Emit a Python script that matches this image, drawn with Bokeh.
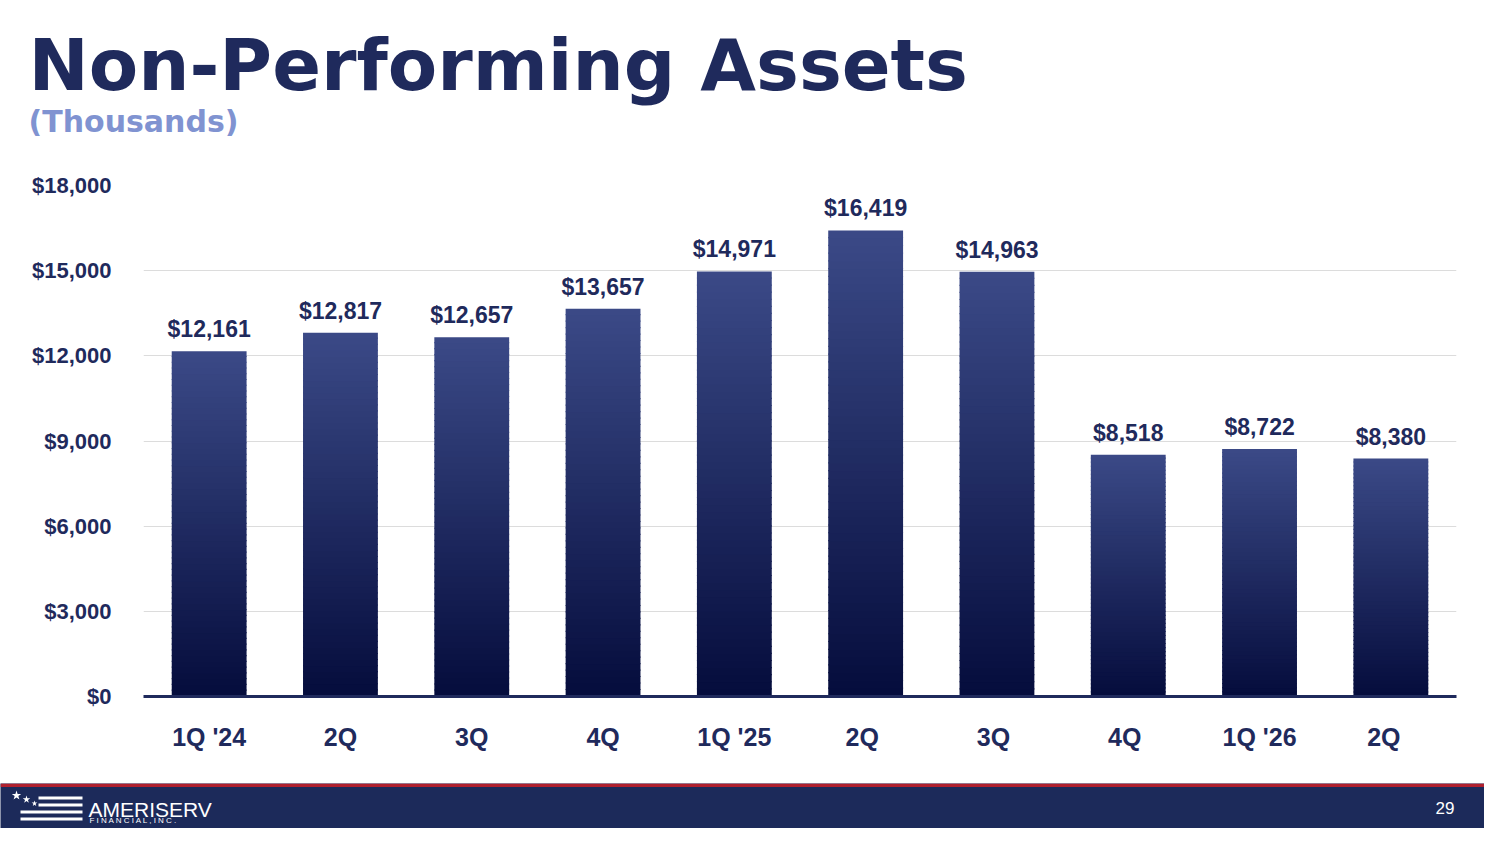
from bokeh.plotting import figure
from bokeh.layouts import column, row
from bokeh.models import NumeralTickFormatter, FixedTicker, Range1d, ColumnDataSource
from bokeh.core.properties import value
from bokeh.embed import file_html
from bokeh.resources import INLINE

categories = ["1Q '24", "2Q", "3Q", "4Q", "1Q '25", "2Q ", "3Q ", "4Q ", "1Q '26", "2Q  "]
values = [12161, 12817, 12657, 13657, 14971, 16419, 14963, 8518, 8722, 8380]
labels = ["$12,161", "$12,817", "$12,657", "$13,657", "$14,971", "$16,419", "$14,963", "$8,518", "$8,722", "$8,380"]
y_ticks = [0, 3000, 6000, 9000, 12000, 15000, 18000]

W = 1484
NAVY = "#1f2a5c"
FONT = "Liberation Sans"

# header
h = figure(width=W, height=163, x_range=Range1d(0, W), y_range=Range1d(163, 0),
           output_backend="svg", toolbar_location=None, min_border=0, outline_line_color=None)
h.axis.visible = False; h.grid.visible = False
h.text([28], [64], text=["Non-Performing Assets"], text_font=value("DejaVu Sans"), text_font_style="bold",
       text_font_size="72px", text_color=NAVY, text_baseline="alphabetic")
h.text([28], [121], text=["(Thousands)"], text_font=value("DejaVu Sans"), text_font_style="bold",
       text_font_size="30px", text_color="#8093d1", text_baseline="alphabetic")

# chart
p = figure(width=W, height=620, x_range=categories, y_range=Range1d(0, 18000),
           output_backend="svg", toolbar_location=None, min_border_top=22, min_border_bottom=87,
           min_border_left=143, min_border_right=28, outline_line_color=None)
N = 60
def lerp(c1, c2, t):
    a = [int(c1[i:i+2], 16) for i in (1, 3, 5)]
    b = [int(c2[i:i+2], 16) for i in (1, 3, 5)]
    return "#%02x%02x%02x" % tuple(round(a[k] + (b[k] - a[k]) * t) for k in range(3))
xs, bots, tops, cols = [], [], [], []
for i in range(N):
    for c, v in zip(categories, values):
        xs.append(c); bots.append(v * i / N); tops.append(min(v, v * (i + 1) / N + 40))
        cols.append(lerp("#050c3c", "#3b4a87", (i + 0.5) / N))
p.vbar(x=xs, bottom=bots, top=tops, width=0.57, fill_color=cols, line_color=None)
src = ColumnDataSource(dict(x=categories, y=values, t=labels))
p.text(x="x", y="y", text="t", source=src, y_offset=-9, text_align="center", text_baseline="bottom",
       text_font=value(FONT), text_font_style="bold", text_font_size="23px", text_color=NAVY)
p.yaxis.ticker = FixedTicker(ticks=y_ticks)
p.yaxis.formatter = NumeralTickFormatter(format="$0,0")
p.yaxis.axis_line_color = None; p.yaxis.major_tick_line_color = None; p.yaxis.minor_tick_line_color = None
p.yaxis.major_label_text_font = FONT; p.yaxis.major_label_text_font_style = "bold"
p.yaxis.major_label_text_font_size = "22px"; p.yaxis.major_label_text_color = NAVY
p.yaxis.major_label_standoff = 26
p.xaxis.axis_line_color = NAVY; p.xaxis.axis_line_width = 3
p.xaxis.major_tick_line_color = None
p.xaxis.major_label_text_font = FONT; p.xaxis.major_label_text_font_style = "bold"
p.xaxis.major_label_text_font_size = "25px"; p.xaxis.major_label_text_color = NAVY
p.xaxis.major_label_standoff = 20
p.xgrid.visible = False
p.ygrid.grid_line_color = "#dcdcdc"
p.x_range.range_padding = 0.0

# footer
FH = 45
f = figure(width=W, height=FH, x_range=Range1d(0, W), y_range=Range1d(FH, 0),
           output_backend="svg", toolbar_location=None, min_border=0, outline_line_color=None,
           background_fill_color="#1c2a5a")
f.axis.visible = False; f.grid.visible = False
f.quad(left=[0], right=[W], top=[0], bottom=[3.5], fill_color="#b0202e", line_color=None)
for yy, x0 in [(13, 38), (20, 38), (27, 20), (34, 20)]:
    f.quad(left=[x0], right=[82], top=[yy], bottom=[yy + 3], fill_color="white", line_color=None)
f.scatter([16, 26, 34], [12, 16, 20], marker="star", size=[10, 8, 6], color="white", line_color=None)
f.text([88], [26], text=["AMERISERV"], text_font=value("Liberation Sans"), text_font_size="21px",
       text_color="white", text_baseline="alphabetic")
f.text([89], [37], text=["F I N A N C I A L ,  I N C ."], text_font=value("Liberation Sans"),
       text_font_size="8px", text_color="white", text_baseline="alphabetic")
f.text([1454], [24], text=["29"], text_font=value("Liberation Sans"), text_font_size="17px",
       text_color="white", text_align="right", text_baseline="middle")

layout = column(row(h), p, row(f), spacing=0)
open("out.html", "w").write(file_html(layout, INLINE))
